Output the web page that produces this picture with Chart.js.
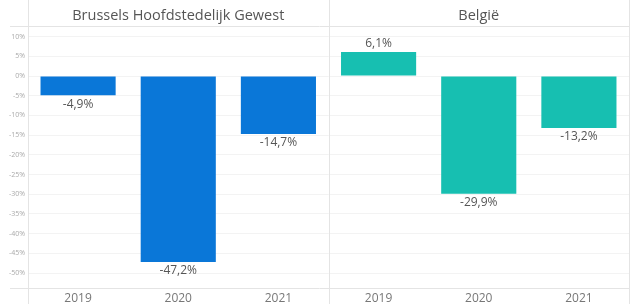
<!DOCTYPE html>
<html>
<head>
<meta charset="utf-8">
<script src="https://cdn.jsdelivr.net/npm/chart.js@4/dist/chart.umd.min.js"></script>
<style>
html,body{margin:0;padding:0;background:#fff;}
#wrap{width:635px;height:304px;position:relative;}
</style>
</head>
<body>
<div id="wrap"><canvas id="c" width="635" height="304"></canvas></div>
<script>
const years = ["2019","2020","2021"];
const regions = ["Brussels Hoofdstedelijk Gewest","België"];
const brusselsValues = [-4.9, -47.2, -14.7];
const belgieValues = [6.1, -29.9, -13.2];
const yTicks = [10,5,0,-5,-10,-15,-20,-25,-30,-35,-40,-45,-50];
const regionColors = ["#0a77d8","#17bfb1"];

const labels = years.concat(years);
const values = brusselsValues.concat(belgieValues);
const colors = years.map(()=>regionColors[0]).concat(years.map(()=>regionColors[1]));

const fmt = v => (Math.round(v*10)/10).toFixed(1).replace('.', ',') + '%';
const FONT = "'Open Sans', 'Noto Sans', sans-serif";

const framePlugin = {
  id:'frame',
  beforeDatasetsDraw(chart){
    const {ctx, chartArea:a, scales:{x}} = chart;
    ctx.save();
    ctx.strokeStyle = '#e4e4e4';
    ctx.lineWidth = 1;
    [a.top, a.bottom].forEach(y=>{
      ctx.beginPath(); ctx.moveTo(10, Math.round(y)+0.5); ctx.lineTo(a.right, Math.round(y)+0.5); ctx.stroke();
    });
    const xs = [a.left, (x.getPixelForValue(2)+x.getPixelForValue(3))/2, a.right];
    xs.forEach(px=>{
      ctx.beginPath(); ctx.moveTo(Math.round(px)+0.5, 0); ctx.lineTo(Math.round(px)+0.5, chart.height); ctx.stroke();
    });
    ctx.fillStyle = '#555';
    ctx.font = "14.5px " + FONT;
    ctx.textAlign = 'center'; ctx.textBaseline = 'middle';
    ctx.fillText(regions[0], x.getPixelForValue(1), 16);
    ctx.fillText(regions[1], x.getPixelForValue(4), 16);
    ctx.restore();
  },
  afterDatasetsDraw(chart){
    const {ctx} = chart;
    const meta = chart.getDatasetMeta(0);
    ctx.save();
    ctx.fillStyle = '#555';
    ctx.font = "12px " + FONT;
    ctx.textAlign = 'center';
    meta.data.forEach((el,i)=>{
      const v = values[i];
      if (v >= 0){ ctx.textBaseline='bottom'; ctx.fillText(fmt(v), el.x, el.y - 2); }
      else { ctx.textBaseline='top'; ctx.fillText(fmt(v), el.x, el.y + 3); }
    });
    ctx.restore();
  }
};

new Chart(document.getElementById('c'), {
  type:'bar',
  data:{ labels, datasets:[{ data: values, backgroundColor: colors, borderWidth:0, barPercentage:0.75, categoryPercentage:1 }] },
  options:{
    responsive:false, animation:false,
    layout:{ padding:{ top:26, right:6, left:0, bottom:0 } },
    plugins:{ legend:{display:false}, tooltip:{enabled:false} },
    scales:{
      x:{
        grid:{ display:false, drawTicks:false },
        border:{ display:false },
        ticks:{ color:'#777', font:{ family:FONT, size:12 }, padding:3, maxRotation:0 },
        afterFit(s){ s.height = 16; }
      },
      y:{
        min:-53.8, max:12.7,
        grid:{ color:'#f3f3f3', drawTicks:false },
        border:{ display:false },
        ticks:{ color:'#aaa', font:{ family:FONT, size:7 }, padding:3, callback:v=>v+'%' },
        afterBuildTicks(s){ s.ticks = yTicks.map(v=>({value:v})); },
        afterFit(s){ s.width = 28; }
      }
    }
  },
  plugins:[framePlugin]
});
</script>
</body>
</html>
